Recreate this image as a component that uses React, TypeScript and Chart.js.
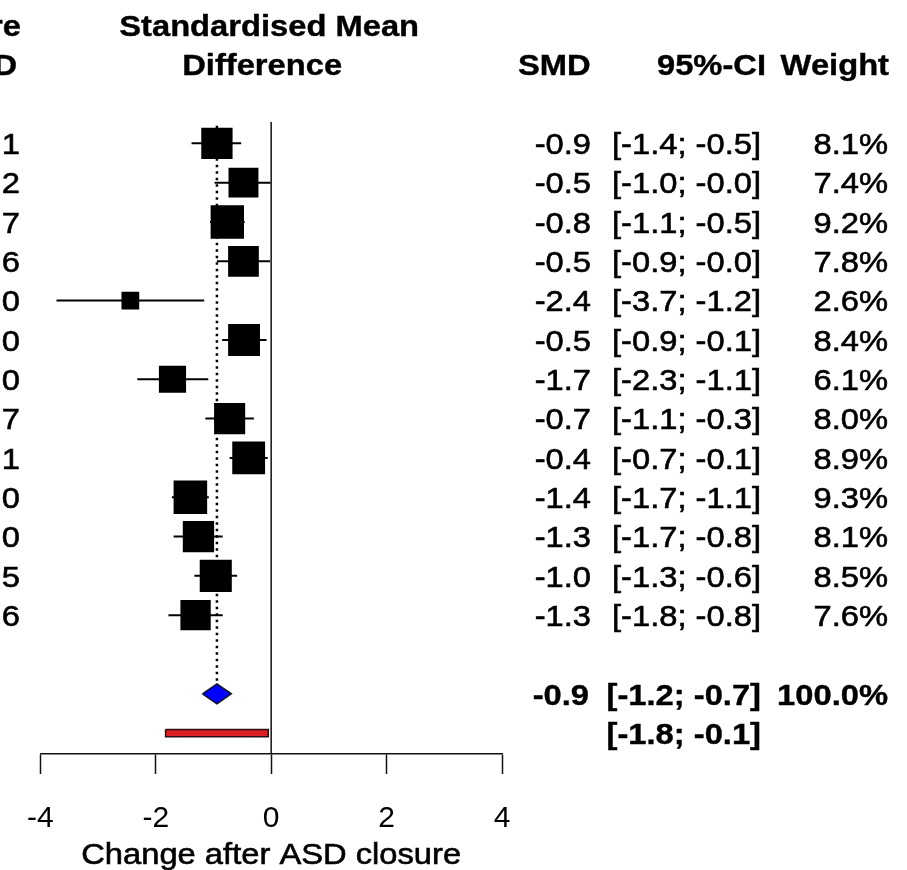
import React, { useEffect, useRef } from 'react';
import { Chart, registerables } from 'chart.js';

Chart.register(...registerables);

// ---- data ----
const leftHeader = ['re', 'D'];
const leftValues = ['1', '2', '7', '6', '0', '0', '0', '7', '1', '0', '0', '5', '6'];
const smdValues = [-0.94, -0.48, -0.76, -0.48, -2.44, -0.47, -1.71, -0.72, -0.39, -1.4, -1.26, -0.96, -1.31];
const ciLower = [-1.38, -0.98, -1.06, -0.94, -3.72, -0.85, -2.32, -1.14, -0.72, -1.72, -1.69, -1.33, -1.78];
const ciUpper = [-0.52, -0.01, -0.46, -0.02, -1.16, -0.08, -1.09, -0.3, -0.06, -1.08, -0.84, -0.59, -0.84];
const weights = [8.1, 7.4, 9.2, 7.8, 2.6, 8.4, 6.1, 8.0, 8.9, 9.3, 8.1, 8.5, 7.6];
const smdText = ['-0.9', '-0.5', '-0.8', '-0.5', '-2.4', '-0.5', '-1.7', '-0.7', '-0.4', '-1.4', '-1.3', '-1.0', '-1.3'];
const ciText = [
  '[-1.4; -0.5]', '[-1.0; -0.0]', '[-1.1; -0.5]', '[-0.9; -0.0]', '[-3.7; -1.2]', '[-0.9; -0.1]', '[-2.3; -1.1]',
  '[-1.1; -0.3]', '[-0.7; -0.1]', '[-1.7; -1.1]', '[-1.7; -0.8]', '[-1.3; -0.6]', '[-1.8; -0.8]',
];
const weightText = ['8.1%', '7.4%', '9.2%', '7.8%', '2.6%', '8.4%', '6.1%', '8.0%', '8.9%', '9.3%', '8.1%', '8.5%', '7.6%'];
const pooledEstimate = -0.94;
const pooledLower = -1.19;
const pooledUpper = -0.69;
const predictionLower = -1.83;
const predictionUpper = -0.05;
const pooledText = ['-0.9', '[-1.2; -0.7]', '100.0%'];
const predictionText = '[-1.8; -0.1]';
const headerTitle = ['Standardised Mean', 'Difference'];
const columnHeaders = ['SMD', '95%-CI', 'Weight'];
const xTickValues = [-4, -2, 0, 2, 4];
const xAxisTitle = 'Change after ASD closure';

// ---- layout constants ----
const W = 907;
const H = 870;
const Y_MAX = 16.53;
const POOLED_ROW = 15;
const PRED_ROW = 16;
const SX = 1.09;
const FONT_SIZE = 30;
const FONT = '"Liberation Sans", Arial, Helvetica, sans-serif';

const textPlugin = {
  id: 'forestText',
  afterDraw(chart: any) {
    const ctx = chart.ctx as CanvasRenderingContext2D;
    const ys = chart.scales.y;
    const xs = chart.scales.x;
    const put = (s: string, x: number, cy: number, align: CanvasTextAlign, bold = false, size = FONT_SIZE) => {
      ctx.save();
      ctx.font = `${bold ? 'bold ' : ''}${size}px ${FONT}`;
      ctx.fillStyle = '#000';
      ctx.strokeStyle = '#000';
      ctx.lineWidth = bold ? 0.4 : 0.6;
      ctx.textBaseline = 'alphabetic';
      ctx.textAlign = align;
      ctx.translate(x, cy + size * 0.358);
      ctx.scale(SX, 1);
      ctx.fillText(s, 0, 0);
      ctx.strokeText(s, 0, 0);
      ctx.restore();
    };
    const rowY = (r: number) => ys.getPixelForValue(r);
    // headers
    put(leftHeader[0], 21, rowY(-2), 'right', true);
    put(leftHeader[1], 17, rowY(-1), 'right', true);
    const cx = xs.getPixelForValue(0) - 2;
    put(headerTitle[0], cx, rowY(-2), 'center', true);
    put(headerTitle[1], cx - 7, rowY(-1), 'center', true);
    put(columnHeaders[0], 518, rowY(-1), 'left', true);
    put(columnHeaders[1], 766, rowY(-1), 'right', true);
    put(columnHeaders[2], 889, rowY(-1), 'right', true);
    // study rows
    leftValues.forEach((s, i) => put(s, 20, rowY(i + 1), 'right'));
    smdText.forEach((s, i) => put(s, 591, rowY(i + 1), 'right'));
    ciText.forEach((s, i) => put(s, 761, rowY(i + 1), 'right'));
    weightText.forEach((s, i) => put(s, 888, rowY(i + 1), 'right'));
    // pooled
    put(pooledText[0], 589, rowY(POOLED_ROW), 'right', true);
    put(pooledText[1], 761, rowY(POOLED_ROW), 'right', true);
    put(pooledText[2], 888, rowY(POOLED_ROW), 'right', true);
    put(predictionText, 761, rowY(PRED_ROW), 'right', true);
    // axis title
    put(xAxisTitle, xs.getPixelForValue(0), 853, 'center');
  },
};

export default function App() {
  const ref = useRef<HTMLCanvasElement>(null);
  useEffect(() => {
    document.body.style.margin = '0';
    const canvas = ref.current;
    if (!canvas) return;
    const rows = smdValues.map((_, i) => i + 1);
    const ciSets = rows.map((r, i) => ({
      data: [
        { x: ciLower[i], y: r },
        { x: ciUpper[i], y: r },
      ],
      borderColor: '#000',
      borderWidth: 2,
      pointRadius: 0,
      fill: false,
      order: 2,
    }));
    const dh = 0.254;
    const ph = 0.09;
    const chart = new Chart(canvas, {
      type: 'line',
      data: {
        datasets: [
          {
            data: smdValues.map((v, i) => ({ x: v, y: rows[i] })),
            showLine: false,
            pointStyle: 'rect',
            pointRadius: weights.map((w) => (11 * Math.sqrt(w)) / Math.SQRT2),
            pointBackgroundColor: '#000',
            pointBorderWidth: 0,
            pointBorderColor: '#000',
            order: 0,
          } as any,
          ...ciSets,
          {
            data: [
              { x: pooledEstimate, y: 0.55 },
              { x: pooledEstimate, y: POOLED_ROW - dh },
            ],
            borderColor: '#000',
            borderWidth: 2.5,
            borderDash: [2.5, 4],
            pointRadius: 0,
            fill: false,
            order: 3,
          },
          {
            data: [
              { x: 0, y: 0.46 },
              { x: 0, y: Y_MAX },
            ],
            borderColor: '#111',
            borderWidth: 1.5,
            pointRadius: 0,
            fill: false,
            order: 4,
          },
          {
            data: [
              { x: pooledLower, y: POOLED_ROW },
              { x: pooledEstimate, y: POOLED_ROW - dh },
              { x: pooledUpper, y: POOLED_ROW },
              { x: pooledEstimate, y: POOLED_ROW + dh },
              { x: pooledLower, y: POOLED_ROW },
            ],
            borderColor: '#141428',
            backgroundColor: '#0000ff',
            borderWidth: 1.5,
            pointRadius: 0,
            fill: 'shape',
            order: 1,
          },
          {
            data: [
              { x: predictionLower, y: PRED_ROW - ph },
              { x: predictionUpper, y: PRED_ROW - ph },
              { x: predictionUpper, y: PRED_ROW + ph },
              { x: predictionLower, y: PRED_ROW + ph },
              { x: predictionLower, y: PRED_ROW - ph },
            ],
            borderColor: '#2a1010',
            backgroundColor: '#dc1e26',
            borderWidth: 1.5,
            pointRadius: 0,
            fill: 'shape',
            order: 1,
          },
        ],
      },
      options: {
        responsive: false,
        animation: false,
        layout: { padding: { left: 37, right: W - 502, top: 104, bottom: 0 } },
        plugins: { legend: { display: false }, tooltip: { enabled: false } },
        elements: { line: { tension: 0 } },
        scales: {
          x: {
            type: 'linear',
            min: -4,
            max: 4,
            afterBuildTicks: (scale: any) => {
              scale.ticks = xTickValues.map((v) => ({ value: v }));
            },
            afterFit: (scale: any) => {
              scale.height = H - 754;
            },
            ticks: {
              color: '#000',
              padding: 27,
              font: { family: FONT, size: 30 },
              maxRotation: 0,
            },
            grid: {
              display: true,
              drawOnChartArea: false,
              drawTicks: true,
              tickLength: 20,
              tickWidth: 1.5,
              tickColor: '#111',
            },
            border: { display: true, color: '#111', width: 1.5 },
          },
          y: {
            type: 'linear',
            min: 0,
            max: Y_MAX,
            reverse: true,
            display: false,
          },
        },
      } as any,
      plugins: [textPlugin],
    });
    return () => chart.destroy();
  }, []);
  return <canvas ref={ref} width={W} height={H} style={{ display: 'block', width: W, height: H }} />;
}
